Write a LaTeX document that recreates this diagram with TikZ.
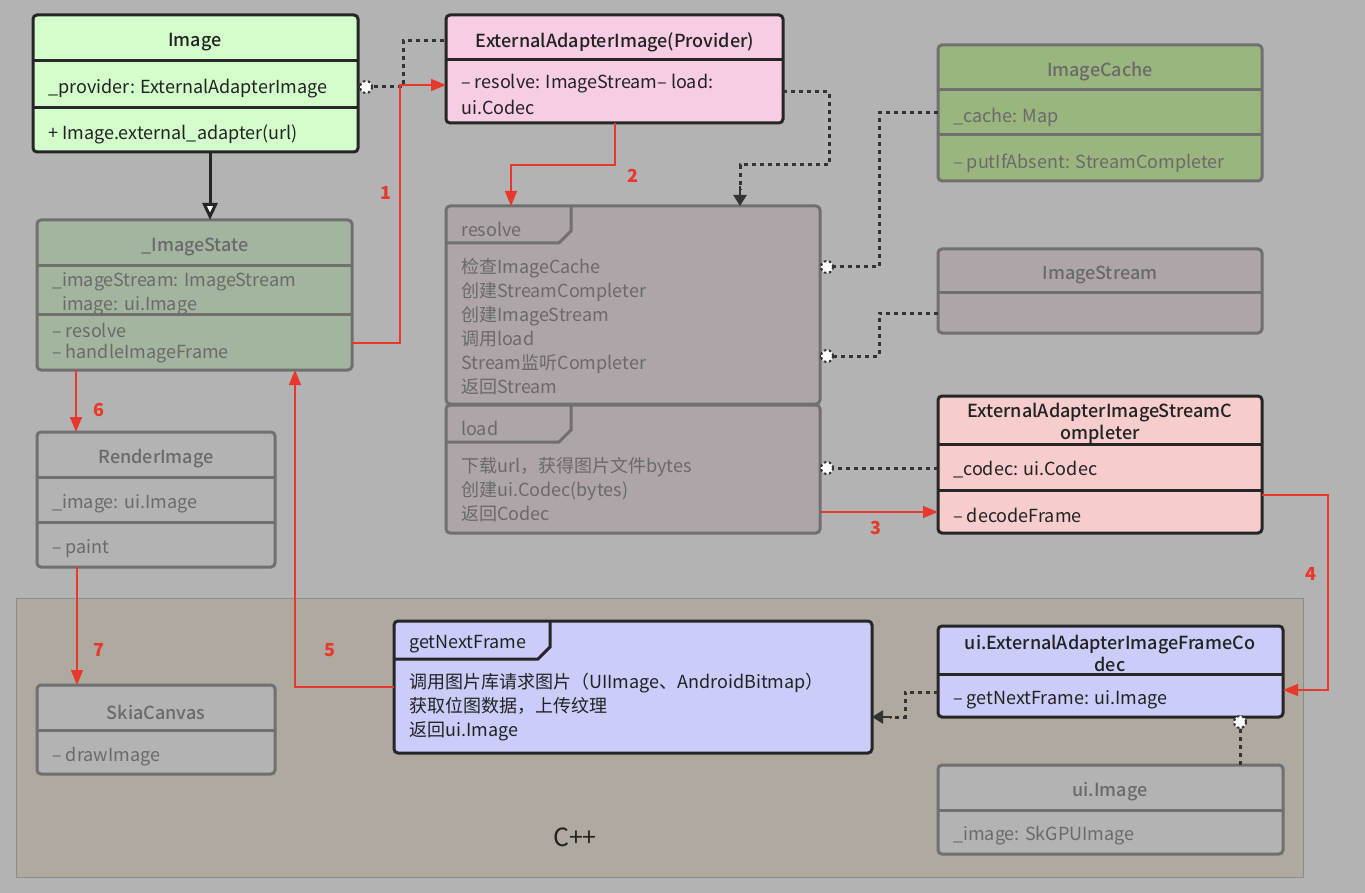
\documentclass[tikz,border=0pt]{standalone}
\usepackage{fontspec}
\setmainfont{Noto Sans CJK SC}
\newfontfamily\medfont{Noto Sans CJK SC Medium}
\usetikzlibrary{arrows.meta,calc}
\definecolor{bgc}{HTML}{B3B3B3}
\definecolor{cppc}{HTML}{AFA99F}
\definecolor{cppline}{HTML}{8C8C8C}
\definecolor{imgc}{HTML}{D4FDCC}
\definecolor{provc}{HTML}{F6CDE3}
\definecolor{cachec}{HTML}{9BB57F}
\definecolor{statec}{HTML}{A3B59F}
\definecolor{mauvec}{HTML}{ADA5A8}
\definecolor{complc}{HTML}{F6CCCC}
\definecolor{lavc}{HTML}{CCCCFA}
\definecolor{grayboxc}{HTML}{B3B3B3}
\definecolor{darkln}{HTML}{262626}
\definecolor{fadeln}{HTML}{707070}
\definecolor{fadetx}{HTML}{6A6A6A}
\definecolor{darktx}{HTML}{222222}
\definecolor{redc}{HTML}{E8382C}
\definecolor{dotc}{HTML}{333333}
\newcommand\myfs{\fontsize{18}{24}\selectfont}
\begin{document}
\begin{tikzpicture}[x=1pt,y=-1pt,
  box/.style={rounded corners=4pt,line width=3pt,anchor=north west,inner sep=0pt,outer sep=0pt},
  darkbox/.style={box,draw=darkln},
  fadebox/.style={box,draw=fadeln},
  dsep/.style={line width=3pt,draw=darkln},
  fsep/.style={line width=3pt,draw=fadeln},
  txt/.style={anchor=west,inner sep=0pt,font=\myfs,text=darktx,yshift=-2pt},
  ftxt/.style={txt,text=fadetx},
  hdr/.style={inner sep=0pt,font=\myfs\medfont,text=darktx,align=center,yshift=-2pt},
  fhdr/.style={hdr,text=fadetx},
  dotline/.style={line width=3pt,draw=dotc,dash pattern=on 4pt off 4pt},
  redarrow/.style={draw=redc,line width=1.4pt,-{Triangle[length=15pt,width=12pt]}},
  darktip/.style={-{Triangle[length=11pt,width=13pt]},dotc},
  num/.style={text=redc,font=\fontsize{18}{20}\selectfont\bfseries,inner sep=0pt},
  agg/.style={circle,fill=white,draw=dotc,line width=2pt,dash pattern=on 2.5pt off 2.5pt,minimum size=12pt,inner sep=0pt}
]
\useasboundingbox (0,0) rectangle (1365,893);
\fill[bgc] (0,0) rectangle (1365,893);
% C++ region
\node[draw=cppline,fill=cppc,line width=1.2pt,anchor=north west,minimum width=1287pt,minimum height=279pt,inner sep=0pt] (cpp) at (16,598) {};
\node[font=\fontsize{25}{28}\selectfont,text=darktx,inner sep=0pt] (cppT) at (575,837) {C++};

% Image
\node[darkbox,fill=imgc,minimum width=325pt,minimum height=137pt] (img) at (33,15) {};
\draw[dsep] (img.west |- 0,61) -- (img.east |- 0,61);
\draw[dsep] (img.west |- 0,108) -- (img.east |- 0,108);
\node[hdr] (imgT) at (195,40) {Image};
\node[txt] (imgA) at (48,87) {\_provider: ExternalAdapterImage};
\node[txt] (imgB) at (48,132) {+ Image.external\_adapter(url)};

% Provider
\node[darkbox,fill=provc,minimum width=337pt,minimum height=108pt] (prov) at (446,15) {};
\draw[dsep] (prov.west |- 0,60) -- (prov.east |- 0,60);
\node[hdr] (provT) at (615,40) {ExternalAdapterImage(Provider)};
\node[txt] (provA) at (461,82) {– resolve: ImageStream– load:};
\node[txt] (provB) at (461,105) {ui.Codec};

% ImageCache
\node[fadebox,fill=cachec,minimum width=324pt,minimum height=136pt] (cache) at (938,45) {};
\draw[fsep] (cache.west |- 0,90) -- (cache.east |- 0,90);
\draw[fsep] (cache.west |- 0,135) -- (cache.east |- 0,135);
\node[fhdr] (cacheT) at (1100,70) {ImageCache};
\node[ftxt] (cacheA) at (953,115) {\_cache: Map};
\node[ftxt] (cacheB) at (953,161) {– putIfAbsent: StreamCompleter};

% _ImageState
\node[fadebox,fill=statec,minimum width=315pt,minimum height=150pt] (st) at (37,220) {};
\node[fhdr] (stT) at (195,245) {\_ImageState};
\node[ftxt] (stA) at (52,280) {\_imageStream: ImageStream};
\node[ftxt] (stB) at (62,304) {image: ui.Image};
\draw[fsep] (st.west |- 0,266) -- (st.east |- 0,266);
\draw[fsep] (st.west |- 0,314) -- (st.east |- 0,314);
\node[ftxt] (stC) at (52,328) {– resolve};
\node[ftxt] (stD) at (52,352) {– handleImageFrame};

% resolve
\node[fadebox,fill=mauvec,minimum width=374pt,minimum height=198pt] (res) at (446,206) {};
\draw[fsep] (res.west |- 0,243) -- (559,243) -- (571,231) -- (571,206);
\node[ftxt] (resT) at (461,227) {resolve};
\node[ftxt,align=left,anchor=north west] (resA) at (461,256) {检查ImageCache\\创建StreamCompleter\\创建ImageStream\\调用load\\Stream监听Completer\\返回Stream};

% load
\node[fadebox,fill=mauvec,minimum width=374pt,minimum height=128pt] (load) at (446,405) {};
\draw[fsep] (load.west |- 0,442) -- (559,442) -- (571,430) -- (571,405);
\node[ftxt] (loadT) at (461,426) {load};
\node[ftxt,align=left,anchor=north west] (loadA) at (461,455) {下载url，获得图片文件bytes\\创建ui.Codec(bytes)\\返回Codec};

% ImageStream
\node[fadebox,fill=mauvec,minimum width=324pt,minimum height=84pt] (strm) at (938,249) {};
\draw[fsep] (strm.west |- 0,293) -- (strm.east |- 0,293);
\node[fhdr] (strmT) at (1100,273) {ImageStream};

% Completer
\node[darkbox,fill=complc,minimum width=324pt,minimum height=137pt] (comp) at (938,396) {};
\draw[dsep] (comp.west |- 0,444) -- (comp.east |- 0,444);
\draw[dsep] (comp.west |- 0,490) -- (comp.east |- 0,490);
\node[hdr] (compT) at (1100,421) {ExternalAdapterImageStreamC\\[-2pt]ompleter};
\node[txt] (compA) at (953,468) {\_codec: ui.Codec};
\node[txt] (compB) at (953,513) {– decodeFrame};

% RenderImage
\node[fadebox,fill=grayboxc,minimum width=238pt,minimum height=135pt] (ri) at (37,432) {};
\draw[fsep] (ri.west |- 0,477) -- (ri.east |- 0,477);
\draw[fsep] (ri.west |- 0,522) -- (ri.east |- 0,522);
\node[fhdr] (riT) at (156,457) {RenderImage};
\node[ftxt] (riA) at (52,502) {\_image: ui.Image};
\node[ftxt] (riB) at (52,547) {– paint};

% SkiaCanvas
\node[fadebox,fill=grayboxc,minimum width=238pt,minimum height=89pt] (sk) at (37,685) {};
\draw[fsep] (sk.west |- 0,730) -- (sk.east |- 0,730);
\node[fhdr] (skT) at (156,710) {SkiaCanvas};
\node[ftxt] (skA) at (52,755) {– drawImage};

% getNextFrame
\node[darkbox,fill=lavc,minimum width=478pt,minimum height=132pt] (gnf) at (394,621) {};
\draw[dsep] (gnf.west |- 0,659) -- (538,659) -- (550,647) -- (550,621);
\node[txt] (gnfT) at (409,642) {getNextFrame};
\node[txt,align=left,anchor=north west] (gnfA) at (409,671) {调用图片库请求图片（UIImage、AndroidBitmap）\\获取位图数据，上传纹理\\返回ui.Image};

% FrameCodec
\node[darkbox,fill=lavc,minimum width=345pt,minimum height=91pt] (fc) at (938,626) {};
\draw[dsep] (fc.west |- 0,674) -- (fc.east |- 0,674);
\node[hdr] (fcT) at (1110,651) {ui.ExternalAdapterImageFrameCo\\[-2pt]dec};
\node[txt] (fcA) at (953,698) {– getNextFrame: ui.Image};

% ui.Image
\node[fadebox,fill=grayboxc,minimum width=345pt,minimum height=89pt] (ui) at (938,765) {};
\draw[fsep] (ui.west |- 0,810) -- (ui.east |- 0,810);
\node[fhdr] (uiT) at (1110,790) {ui.Image};
\node[ftxt] (uiA) at (953,834) {\_image: SkGPUImage};

% ---- connectors ----
% generalization
\draw[line width=3pt,draw=darkln,-{Triangle[open,length=17pt,width=15pt,fill=white]}] (img.south -| 210,0) -- (st.north -| 210,0);

% dotted Image -> Provider
\draw[dotline] (img.east |- 0,87) -- (403,87) -- (403,41) -- (prov.west |- 0,41);
\node[agg] (m1) at (366,87) {};

% red 1
\draw[redarrow] (st.east |- 0,343) -- (400,343) -- (400,85) -- (prov.west |- 0,85);
\node[num] (n1) at (386,193) {1};

% red 2
\draw[redarrow] (prov.south -| 615,0) -- (615,165) -- (511,165) -- (res.north -| 511,0);
\node[num] (n2) at (633,176) {2};

% dotted Provider -> resolve
\draw[dotline] (prov.east |- 0,92) -- (829,92) -- (829,165) -- (740,165) -- (740,190);
\draw[darktip,line width=2.5pt] (740,186) -- (res.north -| 740,0);

% dotted ImageCache -> resolve
\draw[dotline] (cache.west |- 0,113) -- (879,113) -- (879,267) -- (res.east |- 0,267);
\node[agg] (m2) at (827,267) {};

% dotted ImageStream -> resolve
\draw[dotline] (strm.west |- 0,313) -- (879,313) -- (879,356) -- (res.east |- 0,356);
\node[agg] (m3) at (827,356) {};

% dotted Completer -> load
\draw[dotline] (comp.west |- 0,468) -- (load.east |- 0,468);
\node[agg] (m4) at (827,468) {};

% red 3
\draw[redarrow] (load.east |- 0,512) -- (comp.west |- 0,512);
\node[num] (n3) at (876,528) {3};

% red 4
\draw[redarrow] (comp.east |- 0,495) -- (1328,495) -- (1328,690) -- (fc.east |- 0,690);
\node[num] (n4) at (1311,574) {4};

% red 5
\draw[redarrow] (gnf.west |- 0,687) -- (295,687) -- (st.south -| 295,0);
\node[num] (n5) at (330,650) {5};

% red 6
\draw[redarrow] (st.south -| 76,0) -- (ri.north -| 76,0);
\node[num] (n6) at (99,410) {6};

% red 7
\draw[redarrow] (ri.south -| 77,0) -- (sk.north -| 77,0);
\node[num] (n7) at (99,650) {7};

% dotted FrameCodec -> getNextFrame
\draw[dotline] (fc.west |- 0,692) -- (905,692) -- (905,717) -- (890,717);
\draw[darktip,line width=2.5pt] (892,717) -- (gnf.east |- 0,717);

% dotted ui.Image -> FrameCodec
\draw[dotline] (ui.north -| 1240,0) -- (fc.south -| 1240,0);
\node[agg] (m5) at (1240,722) {};
\end{tikzpicture}
\end{document}
